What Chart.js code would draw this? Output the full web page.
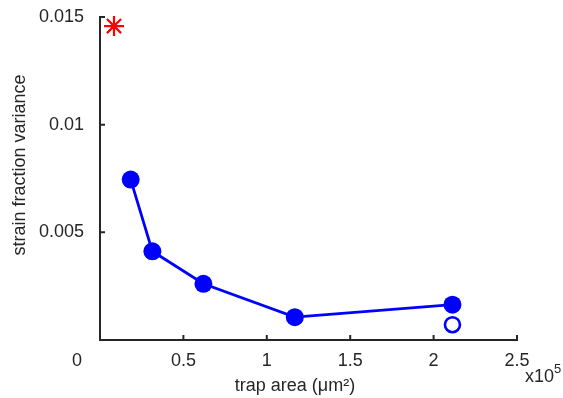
<!DOCTYPE html>
<html>
<head>
<meta charset="utf-8">
<script src="https://cdn.jsdelivr.net/npm/chart.js@4"></script>
<style>
html, body { margin: 0; padding: 0; background: #fff; }
#wrap { width: 563px; height: 398px; }
</style>
</head>
<body>
<div id="wrap"><canvas id="c"></canvas></div>
<script>
// data (x in units of 1e5 um^2)
var trapArea = [0.184, 0.314, 0.62, 1.168, 2.113];
var strainVar = [0.00745, 0.00412, 0.00261, 0.00106, 0.00164];
var openX = [2.113];
var openY = [0.00071];
var starX = [0.084];
var starY = [0.01458];
var xTicks = [0, 0.5, 1, 1.5, 2, 2.5];
var yTicks = [0, 0.005, 0.01, 0.015];

var FONT = "'Liberation Sans', Helvetica, Arial, sans-serif";
var INK = "#262626";

function pts(xs, ys) {
  return xs.map(function (x, i) { return { x: x, y: ys[i] }; });
}

// inward ticks + the odd bits of text matlab puts around the axes
var extras = {
  id: "extras",
  afterDraw: function (chart) {
    var ctx = chart.ctx;
    var xs = chart.scales.x, ys = chart.scales.y;
    var area = chart.chartArea;
    ctx.save();
    ctx.strokeStyle = INK;
    ctx.lineWidth = 2;
    ctx.beginPath();
    xTicks.forEach(function (v) {
      if (v === 0) return;
      var px = xs.getPixelForValue(v);
      ctx.moveTo(px, area.bottom);
      ctx.lineTo(px, area.bottom - 5);
    });
    yTicks.forEach(function (v) {
      if (v === 0) return;
      var py = ys.getPixelForValue(v);
      ctx.moveTo(area.left, py);
      ctx.lineTo(area.left + 5, py);
    });
    ctx.stroke();

    ctx.fillStyle = INK;
    ctx.font = "18px " + FONT;
    ctx.textAlign = "right";
    ctx.textBaseline = "middle";
    ctx.fillText("0", area.left - 18, 361);

    // x10^5
    ctx.textAlign = "left";
    ctx.textBaseline = "alphabetic";
    ctx.fillText("x10", 525, 382);
    var w = ctx.measureText("x10").width;
    ctx.font = "13px " + FONT;
    ctx.fillText("5", 525 + w, 373);

    // axis titles
    ctx.font = "18px " + FONT;
    ctx.textAlign = "center";
    ctx.fillText("trap area (\u03bcm\u00b2)", 295, 391);
    ctx.translate(25, 165);
    ctx.rotate(-Math.PI / 2);
    ctx.fillText("strain fraction variance", 0, 0);
    ctx.restore();
  }
};

new Chart(document.getElementById("c"), {
  type: "scatter",
  data: {
    datasets: [
      {
        data: pts(trapArea, strainVar),
        showLine: true,
        borderColor: "#0000ff",
        backgroundColor: "#0000ff",
        borderWidth: 2.8,
        pointRadius: 9,
        pointBorderWidth: 0,
        clip: false
      },
      {
        data: pts(openX, openY),
        borderColor: "#0000ff",
        backgroundColor: "#ffffff",
        pointRadius: 7.5,
        pointBorderWidth: 2.6,
        clip: false
      },
      {
        data: pts(starX, starY),
        pointStyle: "star",
        borderColor: "#ff0000",
        backgroundColor: "#ff0000",
        pointRadius: 10,
        pointBorderWidth: 2.2,
        clip: false
      }
    ]
  },
  options: {
    responsive: true,
    maintainAspectRatio: false,
    animation: false,
    layout: { padding: { top: 17, right: 46, left: 0, bottom: 0 } },
    plugins: { legend: { display: false }, tooltip: { enabled: false } },
    scales: {
      x: {
        type: "linear",
        min: 0,
        max: 2.5,
        afterBuildTicks: function (s) { s.ticks = xTicks.map(function (v) { return { value: v }; }); },
        afterFit: function (s) { s.height = 58; s.paddingLeft = 0; s.paddingRight = 0; },
        grid: { display: false, drawTicks: false },
        border: { display: true, color: INK, width: 2 },
        ticks: {
          padding: 10,
          color: INK,
          font: { family: FONT, size: 18 },
          maxRotation: 0,
          callback: function (v) { return v === 0 ? "" : String(v); }
        }
      },
      y: {
        type: "linear",
        min: 0,
        max: 0.015,
        afterBuildTicks: function (s) { s.ticks = yTicks.map(function (v) { return { value: v }; }); },
        afterFit: function (s) { s.width = 100; s.paddingTop = 0; s.paddingBottom = 0; },
        grid: { display: false, drawTicks: false },
        border: { display: true, color: INK, width: 2 },
        ticks: {
          padding: 16,
          color: INK,
          font: { family: FONT, size: 18 },
          callback: function (v) { return v === 0 ? "" : String(v); }
        }
      }
    }
  },
  plugins: [extras]
});
</script>
</body>
</html>
